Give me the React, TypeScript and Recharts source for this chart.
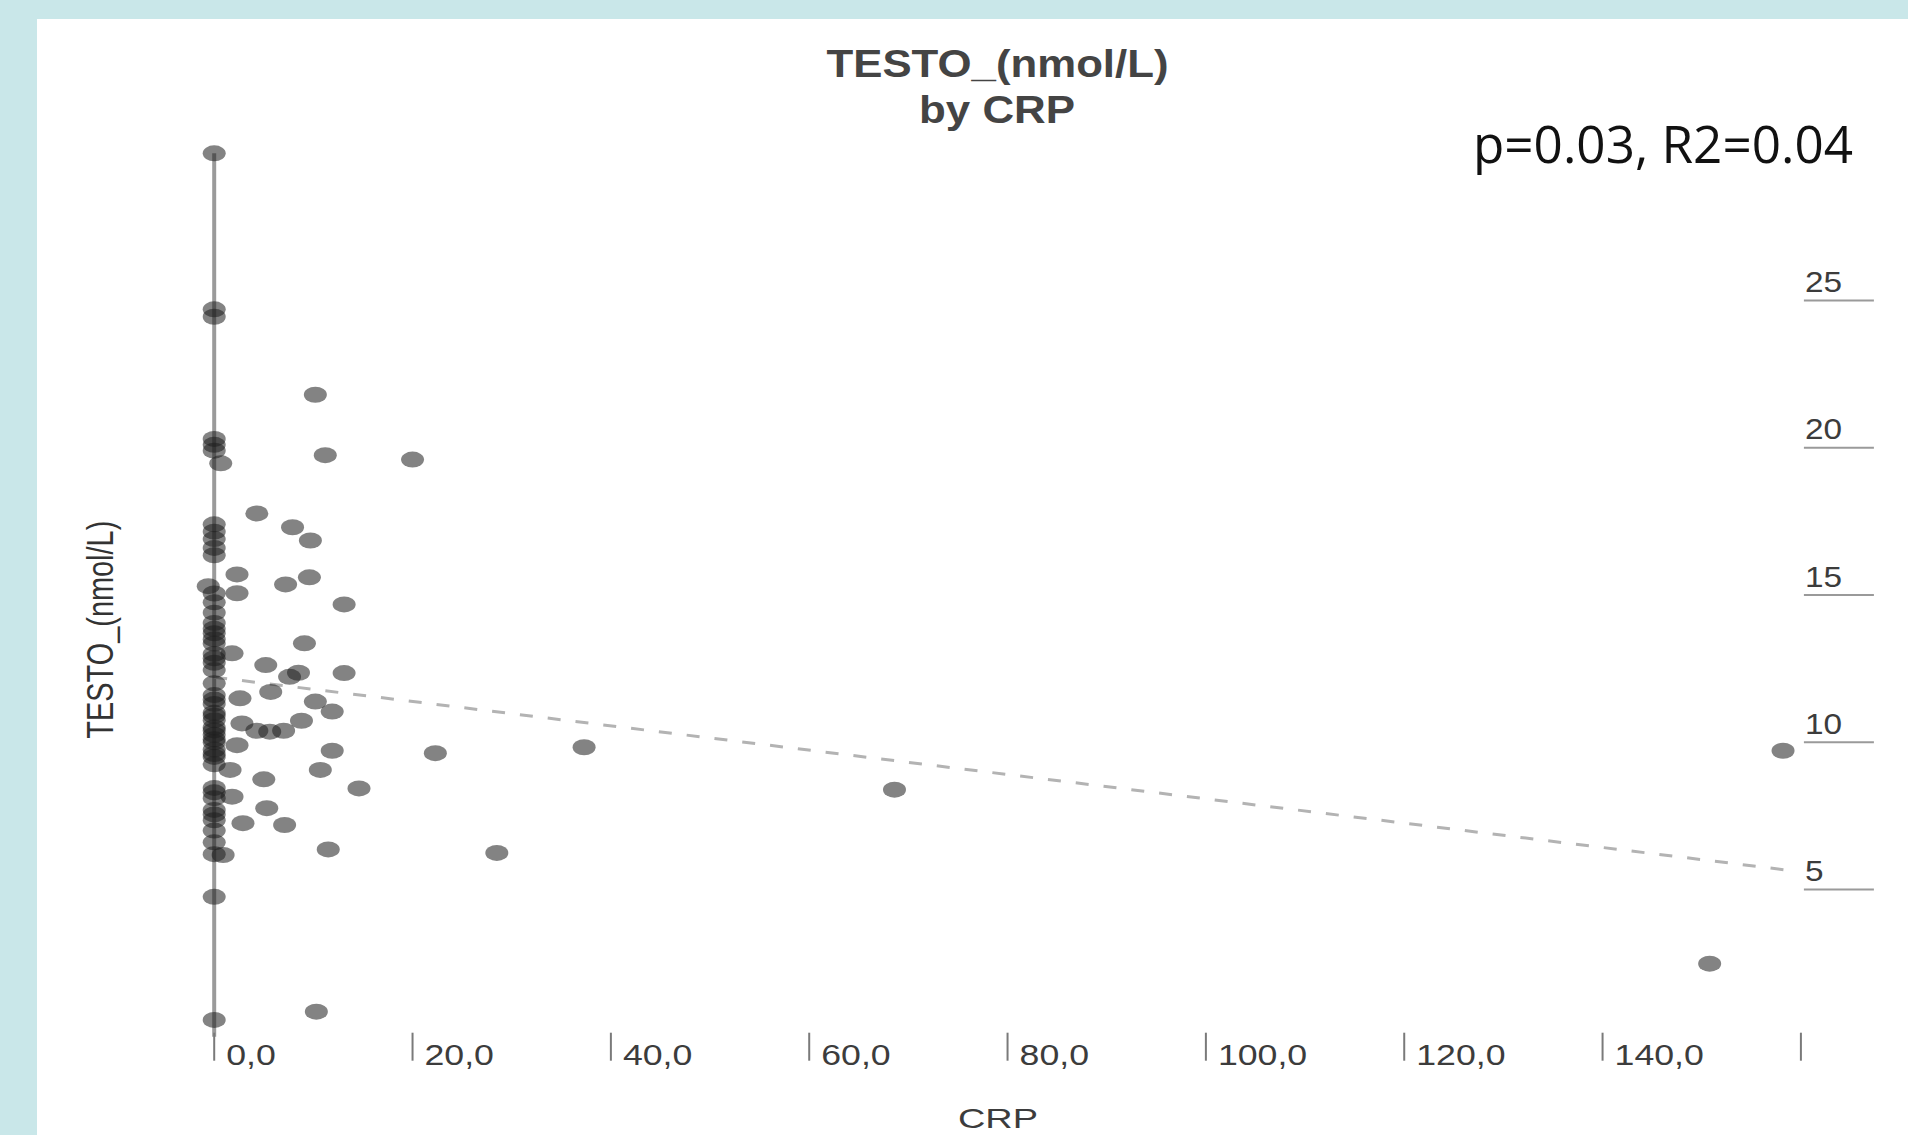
import React from 'react';
import { ScatterChart, Scatter, XAxis, YAxis, ReferenceLine } from 'recharts';

// CRP (x) values
const crpValues = [
  0, 0, 0, 0, 0, 0, 0.66, 0, 0, 0, 0, 0, -0.6, 0, 0, 0, 0, 0, 0, 0, 0, 0, 0, 0, 0, 0, 0, 0, 0, 0, 0, 0, 0, 0, 0, 0, 0, 0, 0, 0, 0, 0,
  0, 0, 0, 0, 0, 0, 0, 0, 0, 0,
  10.2, 11.2, 20.0, 4.3, 7.9, 9.7, 2.3, 2.3, 7.2, 9.6, 13.1, 9.1, 1.8, 5.2, 8.5, 7.6, 13.1, 2.6, 5.7, 10.2, 11.9,
  2.8, 4.3, 5.6, 7.0, 8.8, 2.3, 11.9, 10.7, 5.0, 14.6, 1.6, 1.8, 5.3, 2.9, 7.1, 11.5, 0.9, 10.3,
  22.3, 37.3, 28.5, 68.6, 158.2, 150.8,
];

// TESTO_(nmol/L) (y) values
const testoValues = [
  30.0, 24.7, 24.45, 20.3, 20.1, 19.9, 19.47, 17.4, 17.15, 16.9, 16.6, 16.35, 15.3, 15.05, 14.75, 14.4, 14.05, 13.7, 13.35, 13.0, 12.7, 12.45,
  12.0, 11.6, 11.3, 11.0, 10.75, 10.5, 10.25, 10.0, 9.75, 9.5, 9.25, 8.45, 8.1, 7.7, 7.35, 7.0, 6.6, 6.2, 4.75, 0.57,
  13.85, 13.5, 12.85, 11.45, 10.9, 10.4, 10.1, 9.6, 8.3, 7.55,
  21.8, 19.75, 19.6, 17.77, 17.3, 16.85, 15.7, 15.06, 15.36, 15.6, 14.68, 13.36, 13.02, 12.62, 12.36, 12.22, 12.35, 11.49, 11.71, 11.38, 11.04,
  10.64, 10.39, 10.36, 10.39, 10.73, 9.9, 9.71, 9.06, 8.74, 8.43, 9.06, 8.15, 7.76, 7.25, 7.19, 6.36, 6.17, 0.85,
  9.63, 9.83, 6.24, 8.39, 9.71, 2.48,
];

const xDomain = [-0.6, 160];
const yDomain = [0, 30];
const xTickValues = [0, 20, 40, 60, 80, 100, 120, 140, 160];
const xTickLabels = ['0,0', '20,0', '40,0', '60,0', '80,0', '100,0', '120,0', '140,0', ''];
const yTickValues = [5, 10, 15, 20, 25];
const yTickLabels = ['5', '10', '15', '20', '25'];

const zeroLine = [{ x: 0, y: 30 }, { x: 0, y: 0 }];
const fitLine = [{ x: 0, y: 12.21 }, { x: 159.5, y: 5.62 }];

const titleLines = ['TESTO_(nmol/L)', 'by CRP'];
const statsText = 'p=0.03, R2=0.04';
const xTitle = 'CRP';
const yTitle = 'TESTO_(nmol/L)';

const points = crpValues.map((x, i) => ({ x, y: testoValues[i] }));

const W = 1908;
const H = 1135;
const FONT = '"Liberation Sans", Arial, sans-serif';

const Dot = (props: any) => {
  const { cx, cy } = props;
  if (cx == null || cy == null) return null;
  return <ellipse cx={cx} cy={cy} rx={11.5} ry={8} fill="#1e1e1e" fillOpacity={0.55} />;
};

const XTick = (props: any) => {
  const { x, y, index } = props;
  const label = xTickLabels[index] ?? '';
  return (
    <g>
      <line x1={x} x2={x} y1={y - 4} y2={y + 24} stroke="#7a7a7a" strokeWidth={2} />
      {label ? (
        <text
          transform={`translate(${x + 12},${y + 28}) scale(1.23,1)`}
          fontFamily={FONT}
          fontSize={29}
          fill="#3c3c3c"
        >
          {label}
        </text>
      ) : null}
    </g>
  );
};

const YTick = (props: any) => {
  const { x, y, index } = props;
  const label = yTickLabels[index] ?? '';
  return (
    <g>
      <line x1={x + 3} x2={x + 73} y1={y} y2={y} stroke="#9a9a9a" strokeWidth={2} />
      <text
        transform={`translate(${x + 4},${y - 8.5}) scale(1.15,1)`}
        fontFamily={FONT}
        fontSize={29}
        fill="#3c3c3c"
      >
        {label}
      </text>
    </g>
  );
};

export default function App() {
  return (
    <div style={{ position: 'absolute', left: 0, top: 0, width: W, height: H, background: '#c9e7e9', overflow: 'hidden' }}>
      <div style={{ position: 'absolute', left: 37, top: 19, right: 0, bottom: 0, background: '#ffffff' }} />
      <div style={{ position: 'absolute', left: 0, top: 0 }}>
        <ScatterChart
          width={W}
          height={H}
          margin={{ left: 208.25, top: 153.3, right: 27.1, bottom: 38.3 }}
        >
          <XAxis
            type="number"
            dataKey="x"
            domain={xDomain}
            ticks={xTickValues}
            interval={0}
            axisLine={false}
            tickLine={false}
            tickSize={0}
            tickMargin={0}
            height={60}
            tick={<XTick />}
          />
          <YAxis
            type="number"
            dataKey="y"
            domain={yDomain}
            ticks={yTickValues}
            interval={0}
            orientation="right"
            axisLine={false}
            tickLine={false}
            tickSize={0}
            tickMargin={0}
            width={80}
            tick={<YTick />}
          />
          <ReferenceLine segment={zeroLine} stroke="#9a9a9a" strokeWidth={4} ifOverflow="visible" />
          <ReferenceLine
            segment={fitLine}
            stroke="#b3b3b3"
            strokeWidth={3}
            strokeDasharray="13 15"
            ifOverflow="visible"
          />
          <Scatter data={points} shape={<Dot />} isAnimationActive={false} />
        </ScatterChart>
      </div>
      <svg
        width={W}
        height={H}
        style={{ position: 'absolute', left: 0, top: 0, pointerEvents: 'none' }}
      >
        <text x={997.5} y={77} textAnchor="middle" fontFamily={FONT} fontWeight="bold" fontSize={39} fill="#444444" textLength={342} lengthAdjust="spacingAndGlyphs">
          {titleLines[0]}
        </text>
        <text x={997} y={123} textAnchor="middle" fontFamily={FONT} fontWeight="bold" fontSize={39} fill="#444444" textLength={156} lengthAdjust="spacingAndGlyphs">
          {titleLines[1]}
        </text>
        <text x={1473} y={163} fontFamily='"Open Sans", sans-serif' fontSize={51} fill="#111111" textLength={380} lengthAdjust="spacingAndGlyphs">
          {statsText}
        </text>
        <text
          transform="translate(112.5,629.7) scale(1.25,1) rotate(-90)"
          textAnchor="middle"
          fontFamily={FONT}
          fontSize={29}
          fill="#333333"
          textLength={218}
          lengthAdjust="spacingAndGlyphs"
        >
          {yTitle}
        </text>
        <text x={998} y={1128} textAnchor="middle" fontFamily={FONT} fontSize={28} fill="#3c3c3c" textLength={80} lengthAdjust="spacingAndGlyphs">
          {xTitle}
        </text>
      </svg>
    </div>
  );
}
